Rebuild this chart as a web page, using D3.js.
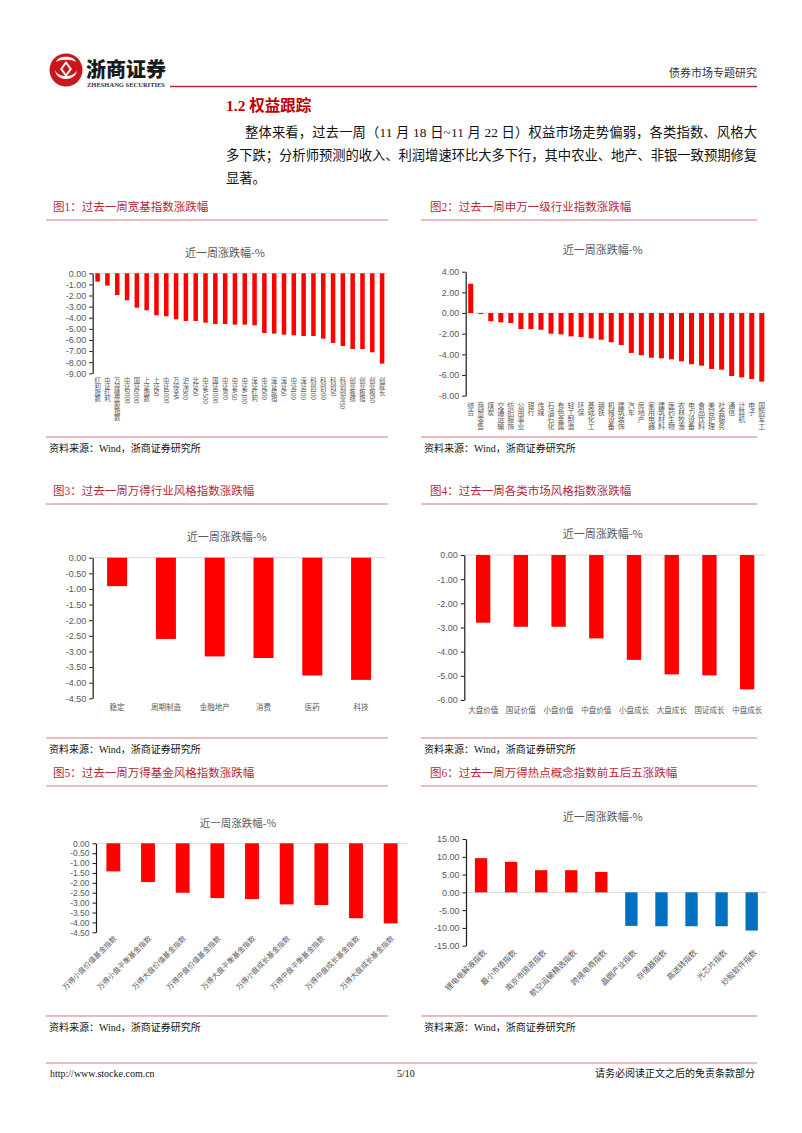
<!DOCTYPE html>
<html><head><meta charset="utf-8">
<script src="https://cdn.jsdelivr.net/npm/d3@7"></script>
<style>
body{margin:0;background:#fff}
svg{display:block}
.vlab{writing-mode:vertical-rl;text-orientation:mixed}
</style>
</head><body>
<svg id="page" width="802" height="1133"></svg>
<script>
// ---------- DATA ----------
const c1Labels = ["红利指数","中证红利","万得微盘股指数","中证2000","国证2000","上证指数","上证50","中证1000","万得全A","沪深300","北证50","中证A500","国证1000","中证800","中证A50","中证A100","深证红利","中证500","深证成指","深证50","中证100","深证100","科创100","科创200","科创50","科创创业50","创业板综","创业板指","创业板50","创成长"];
const c1Values = [-0.75,-1.11,-1.95,-2.43,-3.09,-3.33,-3.78,-3.87,-4.14,-4.29,-4.29,-4.44,-4.56,-4.56,-4.62,-4.62,-4.68,-5.37,-5.43,-5.52,-5.58,-5.64,-5.64,-5.88,-6.27,-6.54,-6.81,-6.81,-7.11,-8.13];
const c1Ticks = [0,-1,-2,-3,-4,-5,-6,-7,-8,-9];

const c2Labels = ["综合","商贸零售","煤炭","交通运输","纺织服饰","公用事业","银行","传媒","石油石化","有色金属","轻工制造","环保","基础化工","钢铁","机械设备","建筑装饰","汽车","房地产","家用电器","建筑材料","医药生物","农林牧渔","电力设备","食品饮料","美容护理","社会服务","通信","计算机","电子","国防军工"];
const c2Values = [2.84,-0.1,-0.8,-0.9,-0.97,-1.55,-1.55,-1.62,-2.0,-2.06,-2.26,-2.32,-2.45,-2.58,-2.83,-3.09,-3.86,-4.09,-4.32,-4.38,-4.48,-4.67,-4.96,-5.09,-5.41,-5.48,-6.09,-6.22,-6.38,-6.64];
const c2Ticks = [4,2,0,-2,-4,-6,-8];

const c3Labels = ["稳定","周期制造","金融地产","消费","医药","科技"];
const c3Values = [-0.91,-2.60,-3.16,-3.21,-3.77,-3.91];
const c3Ticks = [0,-0.5,-1,-1.5,-2,-2.5,-3,-3.5,-4,-4.5];

const c4Labels = ["大盘价值","国证价值","小盘价值","中盘价值","小盘成长","大盘成长","国证成长","中盘成长"];
const c4Values = [-2.80,-2.97,-2.97,-3.45,-4.34,-4.94,-4.98,-5.56];
const c4Ticks = [0,-1,-2,-3,-4,-5,-6];

const c5Labels = ["万得小盘价值基金指数","万得小盘平衡基金指数","万得大盘价值基金指数","万得中盘价值基金指数","万得大盘平衡基金指数","万得小盘成长基金指数","万得中盘平衡基金指数","万得中盘成长基金指数","万得大盘成长基金指数"];
const c5Values = [-1.42,-1.96,-2.50,-2.77,-2.82,-3.09,-3.12,-3.79,-4.05];
const c5Ticks = [0,-0.5,-1,-1.5,-2,-2.5,-3,-3.5,-4,-4.5];

const c6Labels = ["锂电电解液指数","最小市值指数","南京市国资指数","航空运输精选指数","跨境电商指数","晶圆产业指数","存储器指数","高送转指数","光芯片指数","炒股软件指数"];
const c6Values = [9.62,8.58,6.23,6.23,5.75,-9.43,-9.53,-9.53,-9.53,-10.75];
const c6Ticks = [15,10,5,0,-5,-10,-15];

const chartTitle = "近一周涨跌幅-%";
const sourceText = "资料来源：Wind，浙商证券研究所";

// ---------- PAGE ----------
const svg = d3.select('#page');
const SERIF = '"Liberation Serif","Noto Sans CJK SC",serif';
const SANS = '"Noto Sans CJK SC","Liberation Sans",sans-serif';
const NUM = '"Liberation Sans","Noto Sans CJK SC",sans-serif';
const PINK = '#e8a3ab';
const FIGRED = '#b8283c';

// logo
const logo = svg.append('g');
logo.append('circle').attr('cx',66).attr('cy',70).attr('r',16.5).attr('fill','#c8161d');
logo.append('path').attr('d','M56,62 C58,55 74,55 76,62 C72,59 60,59 56,62 Z').attr('fill','#fff');
logo.append('path').attr('d','M55,70 C56,82 76,82 77,70 C74,78 58,78 55,70 Z').attr('fill','#fff');
logo.append('path').attr('d','M66,61 L72,69 L66,77 L60,69 Z').attr('fill','#fff');
logo.append('path').attr('d','M66,64 L69.5,69 L66,74 L62.5,69 Z').attr('fill','#c8161d');
svg.append('text').attr('x',86).attr('y',77).text('浙商证券')
  .attr('font-family',SANS).attr('font-weight',900).attr('font-size',20.5).attr('fill','#1a1a1a')
  .attr('textLength',80).attr('lengthAdjust','spacingAndGlyphs');
svg.append('text').attr('x',87).attr('y',87).text('ZHESHANG SECURITIES')
  .attr('font-family',SERIF).attr('font-weight','bold').attr('font-size',5.5).attr('fill','#333')
  .attr('textLength',78).attr('lengthAdjust','spacingAndGlyphs');
svg.append('line').attr('x1',170).attr('x2',757).attr('y1',86.5).attr('y2',86.5)
  .attr('stroke','#b8283c').attr('stroke-width',1.6);
svg.append('text').attr('x',757).attr('y',77).attr('text-anchor','end').text('债券市场专题研究')
  .attr('font-family',SERIF).attr('font-size',11).attr('fill','#333');

// section title
svg.append('text').attr('x',226).attr('y',111).text('1.2 权益跟踪')
  .attr('font-family',SERIF).attr('font-weight','bold').attr('font-size',15.5).attr('fill','#c00000');

// paragraph
const paraLines = [
  {t:'整体来看，过去一周（11 月 18 日~11 月 22 日）权益市场走势偏弱，各类指数、风格大', x:245, y:137, w:512},
  {t:'多下跌；分析师预测的收入、利润增速环比大多下行，其中农业、地产、非银一致预期修复', x:226, y:160, w:531},
  {t:'显著。', x:226, y:183, w:null}
];
paraLines.forEach(p=>{
  const t = svg.append('text').attr('x',p.x).attr('y',p.y).text(p.t)
    .attr('font-family',SERIF).attr('font-size',13.3).attr('fill','#111');
  if(p.w) t.attr('textLength',p.w).attr('lengthAdjust','spacing');
});

// figure frames
const figs = [
  {n:'图1：过去一周宽基指数涨跌幅', x:53, lx1:46, lx2:388, ty:211, ly:220, sy:437},
  {n:'图2：过去一周申万一级行业指数涨跌幅', x:430, lx1:421, lx2:757, ty:211, ly:220, sy:437},
  {n:'图3：过去一周万得行业风格指数涨跌幅', x:53, lx1:46, lx2:388, ty:495, ly:504, sy:738},
  {n:'图4：过去一周各类市场风格指数涨跌幅', x:430, lx1:421, lx2:757, ty:495, ly:504, sy:738},
  {n:'图5：过去一周万得基金风格指数涨跌幅', x:53, lx1:46, lx2:388, ty:777, ly:786, sy:1016},
  {n:'图6：过去一周万得热点概念指数前五后五涨跌幅', x:430, lx1:421, lx2:757, ty:777, ly:786, sy:1016}
];
figs.forEach(f=>{
  svg.append('text').attr('x',f.x).attr('y',f.ty).text(f.n)
    .attr('font-family',SERIF).attr('font-size',11.5).attr('fill',FIGRED);
  svg.append('line').attr('x1',f.lx1).attr('x2',f.lx2).attr('y1',f.ly).attr('y2',f.ly)
    .attr('stroke',PINK).attr('stroke-width',1.5);
  svg.append('line').attr('x1',f.lx1).attr('x2',f.lx2).attr('y1',f.sy).attr('y2',f.sy)
    .attr('stroke',PINK).attr('stroke-width',1.5);
  svg.append('text').attr('x',f.lx1+3).attr('y',f.sy+15).text(sourceText)
    .attr('font-family',SERIF).attr('font-size',10).attr('fill','#111');
});

// footer
svg.append('line').attr('x1',46).attr('x2',757).attr('y1',1063).attr('y2',1063)
  .attr('stroke',PINK).attr('stroke-width',1.5);
svg.append('text').attr('x',50).attr('y',1077).text('http://www.stocke.com.cn')
  .attr('font-family',SERIF).attr('font-size',10).attr('fill','#111');
svg.append('text').attr('x',397).attr('y',1077).text('5/10')
  .attr('font-family',SERIF).attr('font-size',10).attr('fill','#111');
svg.append('text').attr('x',755).attr('y',1077).attr('text-anchor','end').text('请务必阅读正文之后的免责条款部分')
  .attr('font-family',SERIF).attr('font-size',10).attr('fill','#111');

// ---------- CHARTS ----------
function drawChart(c){
  const g = svg.append('g');
  const x = d3.scaleBand().domain(c.labels).range([c.x0,c.x1]).paddingInner(c.pad).paddingOuter(c.pad/2);
  const y = d3.scaleLinear().domain(c.domain).range([c.yTop,c.yBot]);
  g.append('text').attr('x',c.tx).attr('y',c.ty).attr('text-anchor','middle').attr('dominant-baseline','middle')
    .text(chartTitle).attr('font-family',SANS).attr('font-size',c.titleSize||11).attr('fill','#595959');
  g.append('line').attr('x1',c.x0).attr('x2',c.x1).attr('y1',y(0)).attr('y2',y(0))
    .attr('stroke','#d9d9d9').attr('stroke-width',1);
  g.selectAll('rect.bar').data(c.values).enter().append('rect')
    .attr('x',(d,i)=>x(c.labels[i])).attr('width',x.bandwidth())
    .attr('y',d=>Math.min(y(d),y(0))).attr('height',d=>Math.abs(y(d)-y(0)))
    .attr('fill',d=> (c.negColor && d<0) ? c.negColor : '#ff0000');
  const ax = g.append('g').attr('transform',`translate(${c.x0},0)`)
    .call(d3.axisLeft(y).tickValues(c.ticks).tickFormat(v=>v.toFixed(2)).tickSize(3.5).tickSizeOuter(0).tickPadding(3));
  ax.select('.domain').attr('stroke','#1a1a1a').attr('stroke-width',1.2);
  ax.selectAll('.tick line').attr('stroke','#1a1a1a');
  ax.selectAll('.tick text').attr('font-family',NUM).attr('font-size',c.tickSize||9).attr('fill','#595959');
  const cx = d=> x(d)+x.bandwidth()/2;
  const lab = g.selectAll('text.cat').data(c.labels).enter().append('text')
    .text(d=>d).attr('font-family',SANS).attr('font-size',c.labelSize).attr('fill','#595959');
  if(c.labelMode==='vertical'){
    lab.attr('class','vlab').attr('x',cx).attr('y',c.labelY).attr('text-anchor','start');
  } else if(c.labelMode==='horizontal'){
    lab.attr('x',cx).attr('y',c.labelY).attr('text-anchor','middle').attr('dominant-baseline','middle');
  } else {
    lab.attr('text-anchor','end').attr('dy','0.35em')
      .attr('transform',d=>`translate(${cx(d)+c.labelDx},${c.labelY}) rotate(-45)`);
  }
}

drawChart({labels:c1Labels, values:c1Values, ticks:c1Ticks, domain:[0,-9],
  x0:92.7, x1:387, yTop:273.3, yBot:373.3, pad:0.54, tx:225, ty:254,
  labelMode:'vertical', labelY:377, labelSize:6.3});
drawChart({labels:c2Labels, values:c2Values, ticks:c2Ticks, domain:[4,-8],
  x0:465.7, x1:766.8, yTop:271.7, yBot:395.7, pad:0.5, tx:602.7, ty:251,
  labelMode:'vertical', labelY:402, labelSize:7});
drawChart({labels:c3Labels, values:c3Values, ticks:c3Ticks, domain:[0,-4.5],
  x0:92.7, x1:385.5, yTop:557.7, yBot:698.3, pad:0.59, tx:226.7, ty:538,
  labelMode:'horizontal', labelY:708, labelSize:7.5});
drawChart({labels:c4Labels, values:c4Values, ticks:c4Ticks, domain:[0,-6],
  x0:464.3, x1:766, yTop:555, yBot:700, pad:0.62, tx:602.7, ty:535,
  labelMode:'horizontal', labelY:711, labelSize:7.5});
drawChart({labels:c5Labels, values:c5Values, ticks:c5Ticks, domain:[0,-4.5],
  x0:96, x1:408, yTop:843.3, yBot:932.3, pad:0.6, tx:238, ty:824, titleSize:10.5,
  labelMode:'rotate', labelY:937, labelDx:2, labelSize:7.3, tickSize:8.5});
drawChart({labels:c6Labels, values:c6Values, ticks:c6Ticks, domain:[15,-15], negColor:'#0070c0',
  x0:466, x1:766.7, yTop:839, yBot:945.7, pad:0.59, tx:602.7, ty:818,
  labelMode:'rotate', labelY:951, labelDx:4, labelSize:7.8, tickSize:9});
</script>
</body></html>
